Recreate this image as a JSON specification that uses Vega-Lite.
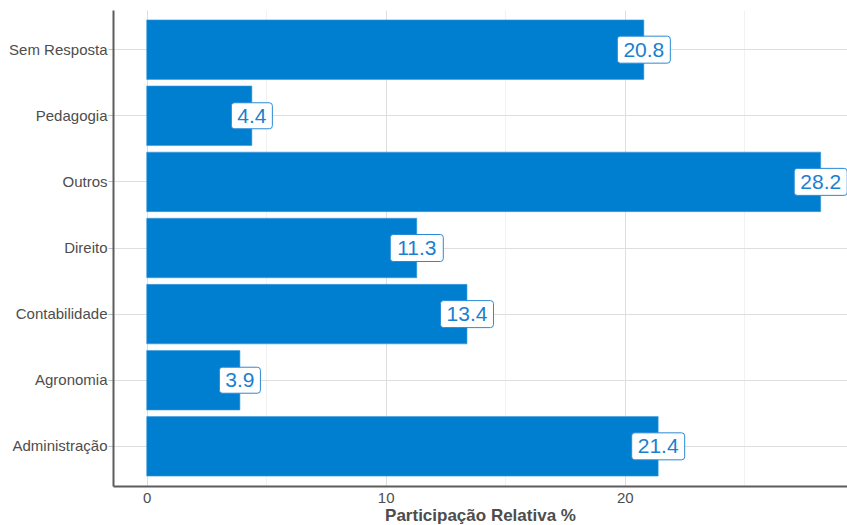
{
  "$schema": "https://vega.github.io/schema/vega-lite/v6.json",
  "width": 734,
  "height": 476,
  "autosize": "none",
  "padding": {"left": 113, "top": 10, "right": 0, "bottom": 39},
  "background": "white",
  "config": {
    "view": {"stroke": null},
    "font": "Liberation Sans"
  },
  "data": {
    "values": [
      {"curso": "Sem Resposta", "v": 20.8},
      {"curso": "Pedagogia", "v": 4.4},
      {"curso": "Outros", "v": 28.2},
      {"curso": "Direito", "v": 11.3},
      {"curso": "Contabilidade", "v": 13.4},
      {"curso": "Agronomia", "v": 3.9},
      {"curso": "Administração", "v": 21.4}
    ]
  },
  "encoding": {
    "y": {
      "field": "curso",
      "type": "nominal",
      "sort": "descending",
      "scale": {"paddingInner": 0.1, "paddingOuter": 0.15},
      "axis": {
        "title": null,
        "labelFontSize": 15,
        "labelColor": "#4d4d4d",
        "labelPadding": 1,
        "tickSize": 5,
        "tickColor": "#bdbdbd",
        "tickWidth": 1,
        "domainColor": "#5c5c5c",
        "domainWidth": 2,
        "grid": true,
        "gridColor": "#dedede",
        "gridWidth": 1
      }
    },
    "x": {
      "field": "v",
      "type": "quantitative",
      "scale": {"domain": [-1.41, 29.3], "nice": false, "zero": false},
      "axis": {
        "title": "Participação Relativa %",
        "titleFontSize": 17,
        "titleFontWeight": "bold",
        "titleColor": "#4d4d4d",
        "titlePadding": 2,
        "values": [0, 5, 10, 15, 20, 25],
        "labelExpr": "datum.value % 10 === 0 ? datum.label : ''",
        "labelFontSize": 15,
        "labelColor": "#4d4d4d",
        "labelPadding": 4,
        "ticks": false,
        "domainColor": "#5c5c5c",
        "domainWidth": 2,
        "grid": true,
        "gridColor": {"condition": {"test": "datum.value % 10 !== 0", "value": "#f2f2f2"}, "value": "#dedede"},
        "gridWidth": 1
      }
    }
  },
  "layer": [
    {
      "mark": {"type": "bar", "color": "#007ECF", "stroke": "#3d9be0", "strokeWidth": 0.6},
      "encoding": {
        "x": {"field": "v", "type": "quantitative"},
        "x2": {"datum": 0}
      }
    },
    {
      "mark": {
        "type": "point",
        "filled": true,
        "fill": "white",
        "fillOpacity": 1,
        "opacity": 1,
        "stroke": "#2a8ad6",
        "strokeWidth": 1,
        "size": 4
      },
      "encoding": {
        "shape": {
          "condition": {
            "test": "datum.v < 10",
            "value": "M-17.5,-13 L17.5,-13 Q20.5,-13 20.5,-10 L20.5,10 Q20.5,13 17.5,13 L-17.5,13 Q-20.5,13 -20.5,10 L-20.5,-10 Q-20.5,-13 -17.5,-13 Z"
          },
          "value": "M-23.5,-13.5 L23.5,-13.5 Q26.5,-13.5 26.5,-10.5 L26.5,10.5 Q26.5,13.5 23.5,13.5 L-23.5,13.5 Q-26.5,13.5 -26.5,10.5 L-26.5,-10.5 Q-26.5,-13.5 -23.5,-13.5 Z"
        }
      }
    },
    {
      "mark": {"type": "text", "fontSize": 21, "color": "#1a7fcf", "align": "center", "baseline": "middle", "dy": 1},
      "encoding": {
        "text": {"field": "v", "type": "quantitative", "format": ".1f"}
      }
    }
  ]
}
